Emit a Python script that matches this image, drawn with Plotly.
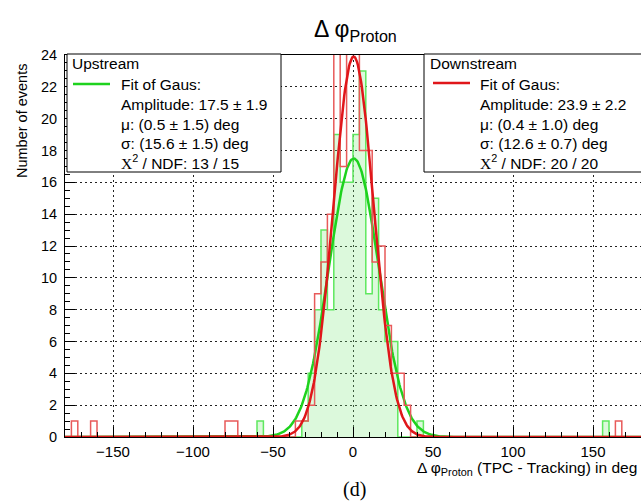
import numpy as np
import plotly.graph_objects as go

# ---------------- data ----------------
bin_width = 4
x_lo, x_hi = -180, 180

# Upstream histogram (bin lower edge -> counts)
up_bins = [-60, -32, -28, -24, -20, -16, -12, -8, -4, 0, 4, 8, 12, 16, 20, 24, 40, 156]
up_counts = [1, 1, 4, 8, 13, 8, 19, 16, 16, 19, 23, 9, 15, 8, 6, 6, 1, 1]

# Downstream histogram
down_bins = [-176, -164, -80, -76, -36, -32, -28, -24, -20, -16, -12, -8, -4, 0, 4, 8,
             12, 16, 20, 24, 28, 32, 164]
down_counts = [1, 1, 1, 1, 1, 1, 2, 9, 11, 14, 25, 17, 25, 26, 18, 18,
               11, 12, 7, 4, 4, 2, 1]

# Gaussian fit parameters (amplitude, mean, sigma) as printed in the legends
up_fit = [17.5, 0.5, 15.6]
down_fit = [23.9, 0.4, 12.6]

x_ticks = [-150, -100, -50, 0, 50, 100, 150]
y_ticks = list(range(0, 25, 2))

CHI = "<span style='font-family:Liberation Serif'>Χ</span><sup>2</sup>"
up_legend = ["Upstream", "Fit of Gaus:", "Amplitude: 17.5 ± 1.9", "μ: (0.5 ± 1.5) deg",
             "σ: (15.6 ± 1.5) deg", CHI + " / NDF: 13 / 15"]
down_legend = ["Downstream", "Fit of Gaus:", "Amplitude: 23.9 ± 2.2", "μ: (0.4 ± 1.0) deg",
               "σ: (12.6 ± 0.7) deg", CHI + " / NDF: 20 / 20"]

# ---------------- build ----------------
edges = np.arange(x_lo, x_hi + bin_width, bin_width)
nb = len(edges) - 1


def hist_steps(bins, counts):
    h = np.zeros(nb)
    for b, c in zip(bins, counts):
        h[int(round((b - x_lo) / bin_width))] = c
    return edges, np.append(h, h[-1])


def gaus(x, p):
    return p[0] * np.exp(-0.5 * ((x - p[1]) / p[2]) ** 2)


xf = np.linspace(x_lo, x_hi, 721)

GREEN_H = "#5fe85f"
RED_H = "#e85a5a"
GREEN_F = "#1ed21e"
RED_F = "#e0161a"

fig = go.Figure()
ux, uy = hist_steps(up_bins, up_counts)
fig.add_trace(go.Scatter(x=ux, y=uy, mode="lines", line=dict(shape="hv", color=GREEN_H, width=1.5),
                         fill="tozeroy", fillcolor="rgba(130,235,130,0.28)", hoverinfo="skip"))
fig.add_trace(go.Scatter(x=xf, y=gaus(xf, up_fit), mode="lines",
                         line=dict(color=GREEN_F, width=2.5), hoverinfo="skip"))
dx, dy = hist_steps(down_bins, down_counts)
fig.add_trace(go.Scatter(x=dx, y=dy, mode="lines", line=dict(shape="hv", color=RED_H, width=1.5),
                         hoverinfo="skip"))
fig.add_trace(go.Scatter(x=xf, y=gaus(xf, down_fit), mode="lines",
                         line=dict(color=RED_F, width=2.5), hoverinfo="skip"))

L, R, T, B = 65, 641, 55, 437


def px(x):
    return (x - L) / (R - L)


def py(y):
    return (B - y) / (B - T)


fig.update_layout(
    width=641, height=502,
    margin=dict(l=L, r=641 - R, t=T, b=502 - B, autoexpand=False),
    paper_bgcolor="white", plot_bgcolor="white", showlegend=False,
    font=dict(family="Liberation Sans, Arial, sans-serif", size=14, color="black"),
)
grid = dict(showgrid=True, gridcolor="#222", griddash="2px,3px", gridwidth=1)
fig.update_xaxes(range=[x_lo, x_hi], tickmode="array", tickvals=x_ticks,
                 ticktext=[str(v).replace("-", "\u2212") for v in x_ticks],
                 ticks="inside", ticklen=10, tickcolor="black", tickwidth=1,
                 minor=dict(ticks="inside", tickvals=list(range(-170, 180, 10)), ticklen=5,
                            tickcolor="black", showgrid=False),
                 showline=True, linecolor="black", linewidth=1, mirror=True, zeroline=False,
                 tickfont=dict(size=15), ticklabelstandoff=1, automargin=False, **grid)
fig.update_yaxes(range=[0, 24], tickmode="array", tickvals=y_ticks,
                 ticks="inside", ticklen=10, tickcolor="black", tickwidth=1,
                 minor=dict(ticks="inside", tickvals=[v / 2 for v in range(0, 49)], ticklen=5,
                            tickcolor="black", showgrid=False),
                 showline=True, linecolor="black", linewidth=1, mirror=True, zeroline=False,
                 tickfont=dict(size=14.5), ticklabelstandoff=4, automargin=False, **grid)

shapes = []
# legend boxes
for (x0, x1, y0, y1) in [(67, 281, 54, 172), (424, 660, 54, 172)]:
    shapes.append(dict(type="rect", xref="paper", yref="paper", x0=px(x0), x1=px(x1),
                       y0=py(y1), y1=py(y0), fillcolor="white",
                       line=dict(color="black", width=1), layer="above"))
shapes.append(dict(type="line", xref="paper", yref="paper", x0=px(73), x1=px(110), y0=py(84), y1=py(84),
                   line=dict(color=GREEN_F, width=2.5), layer="above"))
shapes.append(dict(type="line", xref="paper", yref="paper", x0=px(433), x1=px(470), y0=py(83), y1=py(83),
                   line=dict(color=RED_F, width=2.5), layer="above"))
fig.update_layout(shapes=shapes)

ann = []
row_y = [63, 84, 104, 124, 143, 162]
for i, t in enumerate(up_legend):
    ann.append(dict(text=t, xref="paper", yref="paper", x=px(70 if i == 0 else 119), y=py(row_y[i]),
                    xanchor="left", yanchor="middle", showarrow=False, font=dict(size=15.5)))
for i, t in enumerate(down_legend):
    ann.append(dict(text=t, xref="paper", yref="paper", x=px(428 if i == 0 else 478), y=py(row_y[i]),
                    xanchor="left", yanchor="middle", showarrow=False, font=dict(size=15.5)))
# title
ann.append(dict(text="Δ φ<sub>Proton</sub>", xref="paper", yref="paper", x=px(355), y=py(30),
                xanchor="center", yanchor="middle", showarrow=False, font=dict(size=23)))
# axis titles
ann.append(dict(text="Δ φ<sub>Proton</sub> (TPC - Tracking) in deg", xref="paper", yref="paper",
                x=px(639), y=py(468.5), xanchor="right", yanchor="middle", showarrow=False,
                font=dict(size=15.5)))
ann.append(dict(text="Number of events", xref="paper", yref="paper", x=px(22), y=py(62),
                xanchor="center", yanchor="top", textangle=-90, showarrow=False, font=dict(size=14.5)))
ann.append(dict(text="(d)", xref="paper", yref="paper", x=px(354), y=py(489), xanchor="center",
                yanchor="middle", showarrow=False,
                font=dict(size=20, family="Liberation Serif, Times New Roman, serif")))
fig.update_layout(annotations=ann)

fig.write_html("out.html", config={"displayModeBar": False},
               post_script="document.body.style.margin='0';document.body.style.overflow='hidden';")
